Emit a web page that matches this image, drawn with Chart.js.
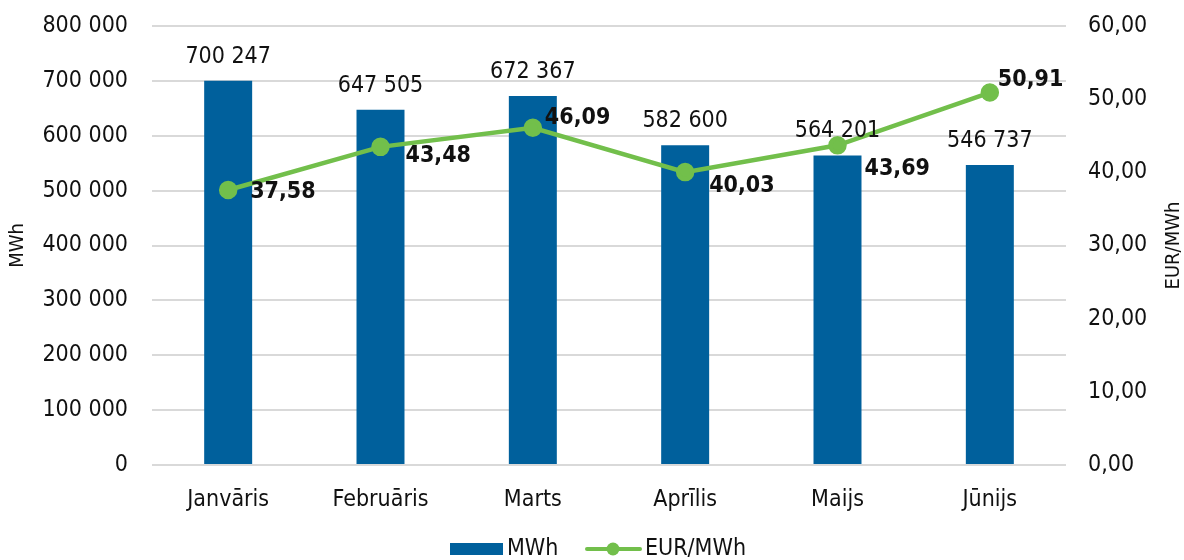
<!DOCTYPE html>
<html>
<head>
<meta charset="utf-8">
<script src="https://cdn.jsdelivr.net/npm/chart.js@4/dist/chart.umd.min.js"></script>
<style>
  html, body { margin: 0; padding: 0; background: #fff; }
  #wrap { width: 1184px; height: 560px; }
</style>
</head>
<body>
<div id="wrap"><canvas id="chart" width="1184" height="560"></canvas></div>
<script>
// === DATA ===
const months = ["Janvāris", "Februāris", "Marts", "Aprīlis", "Maijs", "Jūnijs"];
const volumeMWh = [700247, 647505, 672367, 582600, 564201, 546737];
const priceEUR = [37.58, 43.48, 46.09, 40.03, 43.69, 50.91];
const leftTicksMax = 800000;
const rightTicksMax = 60;

const FONT = '"DejaVu Sans Condensed", "DejaVu Sans", sans-serif';
const FONT_SIZE = 23;
const BAR_COLOR = "#00609c";
const LINE_COLOR = "#72bf4b";
const TEXT_COLOR = "#111";

// label offsets for the price line (dx, dy from point)
const priceLabelOffsets = [[22, 2], [25, 9], [12, -10], [24, 14], [27, 24], [8, -12]];

function fmtThousands(v) {
  return String(Math.round(v)).replace(/\B(?=(\d{3})+(?!\d))/g, " ");
}
function fmtDecimal(v) {
  return v.toFixed(2).replace(".", ",");
}

// === LABELS, AXIS TITLES, LEGEND ===
const labelsPlugin = {
  id: "labels",
  afterDatasetsDraw(chart) {
    const ctx = chart.ctx;
    ctx.save();
    ctx.fillStyle = TEXT_COLOR;
    // bar values
    ctx.font = FONT_SIZE + "px " + FONT;
    ctx.textAlign = "center";
    ctx.textBaseline = "middle";
    chart.getDatasetMeta(0).data.forEach((bar, i) => {
      ctx.fillText(fmtThousands(volumeMWh[i]), bar.x, bar.y - 24);
    });
    // price values
    ctx.font = "bold " + FONT_SIZE + "px " + FONT;
    ctx.textAlign = "left";
    chart.getDatasetMeta(1).data.forEach((pt, i) => {
      const [dx, dy] = priceLabelOffsets[i];
      ctx.fillText(fmtDecimal(priceEUR[i]), pt.x + dx, pt.y + dy);
    });
    ctx.restore();
  },
  afterDraw(chart) {
    const ctx = chart.ctx;
    const area = chart.chartArea;
    const midY = (area.top + area.bottom) / 2;
    ctx.save();
    ctx.fillStyle = TEXT_COLOR;
    ctx.font = "20px " + FONT;
    ctx.textAlign = "center";
    ctx.textBaseline = "middle";
    // axis titles, both read bottom to top
    [["MWh", 18], ["EUR/MWh", 1174]].forEach(([txt, x]) => {
      ctx.save();
      ctx.translate(x, midY);
      ctx.rotate(-Math.PI / 2);
      ctx.fillText(txt, 0, 0);
      ctx.restore();
    });

    // legend
    const y = 549;
    ctx.textAlign = "left";
    ctx.font = FONT_SIZE + "px " + FONT;
    ctx.fillStyle = BAR_COLOR;
    ctx.fillRect(450, y - 6, 53, 12);
    ctx.fillStyle = TEXT_COLOR;
    ctx.fillText("MWh", 507, y);
    ctx.strokeStyle = LINE_COLOR;
    ctx.lineWidth = 4;
    ctx.lineCap = "round";
    ctx.beginPath();
    ctx.moveTo(587, y);
    ctx.lineTo(640, y);
    ctx.stroke();
    ctx.fillStyle = LINE_COLOR;
    ctx.beginPath();
    ctx.arc(613, y, 6.5, 0, Math.PI * 2);
    ctx.fill();
    ctx.fillStyle = TEXT_COLOR;
    ctx.fillText("EUR/MWh", 645, y);
    ctx.restore();
  }
};

function fitVertical(width) {
  return scale => {
    scale.width = width;
    scale.paddingTop = 0;
    scale.paddingBottom = 0;
  };
}

// === CHART ===
const ctx = document.getElementById("chart").getContext("2d");
new Chart(ctx, {
  data: {
    labels: months,
    datasets: [
      {
        type: "bar",
        label: "MWh",
        data: volumeMWh,
        yAxisID: "y",
        backgroundColor: BAR_COLOR,
        categoryPercentage: 1,
        barPercentage: 0.315,
        order: 1
      },
      {
        type: "line",
        label: "EUR/MWh",
        data: priceEUR,
        yAxisID: "y1",
        borderColor: LINE_COLOR,
        backgroundColor: LINE_COLOR,
        borderWidth: 4.5,
        pointRadius: 7,
        pointHoverRadius: 7,
        tension: 0,
        order: 0
      }
    ]
  },
  options: {
    responsive: false,
    animation: false,
    layout: { padding: { top: 26, right: 0, left: 0, bottom: 0 } },
    plugins: {
      legend: { display: false },
      tooltip: { enabled: false }
    },
    scales: {
      x: {
        grid: { display: false },
        border: { display: false },
        ticks: { color: TEXT_COLOR, font: { family: FONT, size: FONT_SIZE }, padding: 13, maxRotation: 0 },
        afterFit(scale) { scale.height = 95; }
      },
      y: {
        position: "left",
        min: 0,
        max: leftTicksMax,
        grid: { color: "#d9d9d9", lineWidth: 2, drawTicks: false },
        border: { display: false },
        ticks: {
          stepSize: 100000,
          padding: 24,
          color: TEXT_COLOR,
          font: { family: FONT, size: FONT_SIZE },
          callback: v => fmtThousands(v)
        },
        afterFit: fitVertical(152)
      },
      y1: {
        position: "right",
        min: 0,
        max: rightTicksMax,
        grid: { display: false, drawTicks: false },
        border: { display: false },
        ticks: {
          stepSize: 10,
          padding: 22,
          color: TEXT_COLOR,
          font: { family: FONT, size: FONT_SIZE },
          callback: v => fmtDecimal(v)
        },
        afterFit: fitVertical(118)
      }
    }
  },
  plugins: [labelsPlugin]
});
</script>
</body>
</html>
